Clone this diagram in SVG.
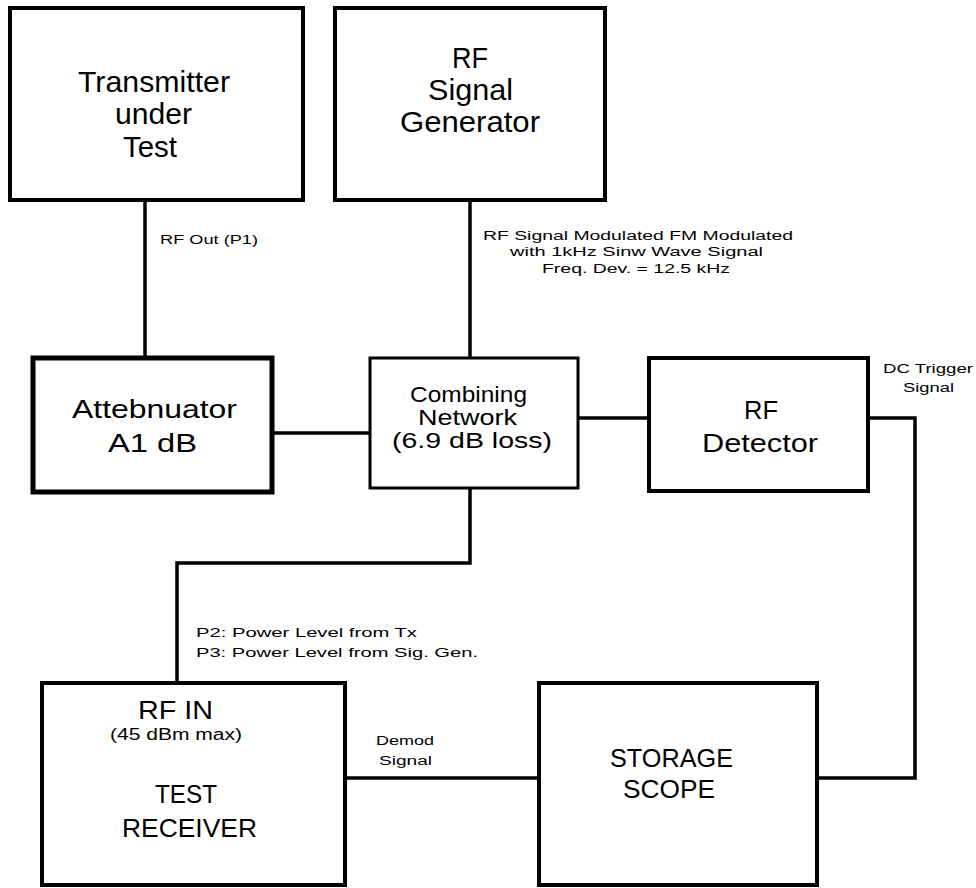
<svg xmlns="http://www.w3.org/2000/svg" width="976" height="888" viewBox="0 0 976 888">
<style>
.box{fill:#fff;stroke:#000;stroke-width:4}
.thick{stroke-width:5}
.thin{stroke-width:3}
.wire{fill:none;stroke:#000;stroke-width:3.5;stroke-linejoin:miter}
text{font-family:"Liberation Sans",Arial,sans-serif;fill:#000}
.big{font-size:30px}
.mid{font-size:26px}
.med{font-size:22px}
.sm{font-size:16px}
.lbl{font-size:12.5px}
</style>
<rect width="976" height="888" fill="#fff"/>
<g id="connectors">
<path class="wire" d="M145 200V358"/>
<path class="wire" d="M470 200V358"/>
<path class="wire" d="M272 433H370"/>
<path class="wire" d="M578 418H649"/>
<path class="wire" d="M868 418H915V778H817"/>
<path class="wire" d="M470 488V563H177V683"/>
<path class="wire" d="M345 778H539"/>
</g>
<g id="transmitter">
<rect class="box" x="10" y="8" width="293" height="192"/>
<text class="big" x="78" y="92" textLength="152" lengthAdjust="spacingAndGlyphs">Transmitter</text>
<text class="big" x="115" y="124" textLength="77" lengthAdjust="spacingAndGlyphs">under</text>
<text class="big" x="123" y="157" textLength="54" lengthAdjust="spacingAndGlyphs">Test</text>
</g>
<g id="siggen">
<rect class="box" x="335" y="8" width="270" height="192"/>
<text class="big" x="452" y="68" textLength="36" lengthAdjust="spacingAndGlyphs">RF</text>
<text class="big" x="428" y="100" textLength="85" lengthAdjust="spacingAndGlyphs">Signal</text>
<text class="big" x="400" y="132" textLength="140" lengthAdjust="spacingAndGlyphs">Generator</text>
</g>
<g id="attenuator">
<rect class="box thick" x="33" y="358" width="239" height="134"/>
<text class="mid" x="72" y="418" textLength="165" lengthAdjust="spacingAndGlyphs">Attebnuator</text>
<text class="mid" x="108" y="452" textLength="89" lengthAdjust="spacingAndGlyphs">A1 dB</text>
</g>
<g id="combining">
<rect class="box thin" x="370" y="358" width="208" height="130"/>
<text class="med" x="410" y="402" textLength="117" lengthAdjust="spacingAndGlyphs">Combining</text>
<text class="med" x="418" y="425" textLength="99" lengthAdjust="spacingAndGlyphs">Network</text>
<text class="med" x="392" y="448" textLength="160" lengthAdjust="spacingAndGlyphs">(6.9 dB loss)</text>
</g>
<g id="detector">
<rect class="box" x="649" y="358" width="219" height="133"/>
<text class="mid" x="744" y="419" textLength="34" lengthAdjust="spacingAndGlyphs">RF</text>
<text class="mid" x="702" y="452" textLength="116" lengthAdjust="spacingAndGlyphs">Detector</text>
</g>
<g id="receiver">
<rect class="box" x="42" y="683" width="303" height="202"/>
<text class="mid" x="138" y="719" textLength="75" lengthAdjust="spacingAndGlyphs">RF IN</text>
<text class="sm" x="110" y="740" textLength="132" lengthAdjust="spacingAndGlyphs">(45 dBm max)</text>
<text class="mid" x="155" y="803" textLength="62" lengthAdjust="spacingAndGlyphs">TEST</text>
<text class="mid" x="122" y="837" textLength="135" lengthAdjust="spacingAndGlyphs">RECEIVER</text>
</g>
<g id="scope">
<rect class="box" x="539" y="683" width="278" height="202"/>
<text class="mid" x="610" y="767" textLength="123" lengthAdjust="spacingAndGlyphs">STORAGE</text>
<text class="mid" x="623" y="798" textLength="92" lengthAdjust="spacingAndGlyphs">SCOPE</text>
</g>
<g id="labels">
<text class="lbl" x="160" y="244" textLength="98" lengthAdjust="spacingAndGlyphs">RF Out (P1)</text>
<text class="lbl" x="483" y="240" textLength="310" lengthAdjust="spacingAndGlyphs">RF Signal Modulated FM Modulated</text>
<text class="lbl" x="510" y="256" textLength="253" lengthAdjust="spacingAndGlyphs">with 1kHz Sinw Wave Signal</text>
<text class="lbl" x="542" y="273" textLength="188" lengthAdjust="spacingAndGlyphs">Freq. Dev. = 12.5 kHz</text>
<text class="lbl" x="883" y="373" textLength="90" lengthAdjust="spacingAndGlyphs">DC Trigger</text>
<text class="lbl" x="903" y="392" textLength="51" lengthAdjust="spacingAndGlyphs">Signal</text>
<text class="lbl" x="196" y="637" textLength="221" lengthAdjust="spacingAndGlyphs">P2: Power Level from Tx</text>
<text class="lbl" x="196" y="657" textLength="282" lengthAdjust="spacingAndGlyphs">P3: Power Level from Sig. Gen.</text>
<text class="lbl" x="376" y="745" textLength="58" lengthAdjust="spacingAndGlyphs">Demod</text>
<text class="lbl" x="379" y="765" textLength="53" lengthAdjust="spacingAndGlyphs">Signal</text>
</g>
</svg>
